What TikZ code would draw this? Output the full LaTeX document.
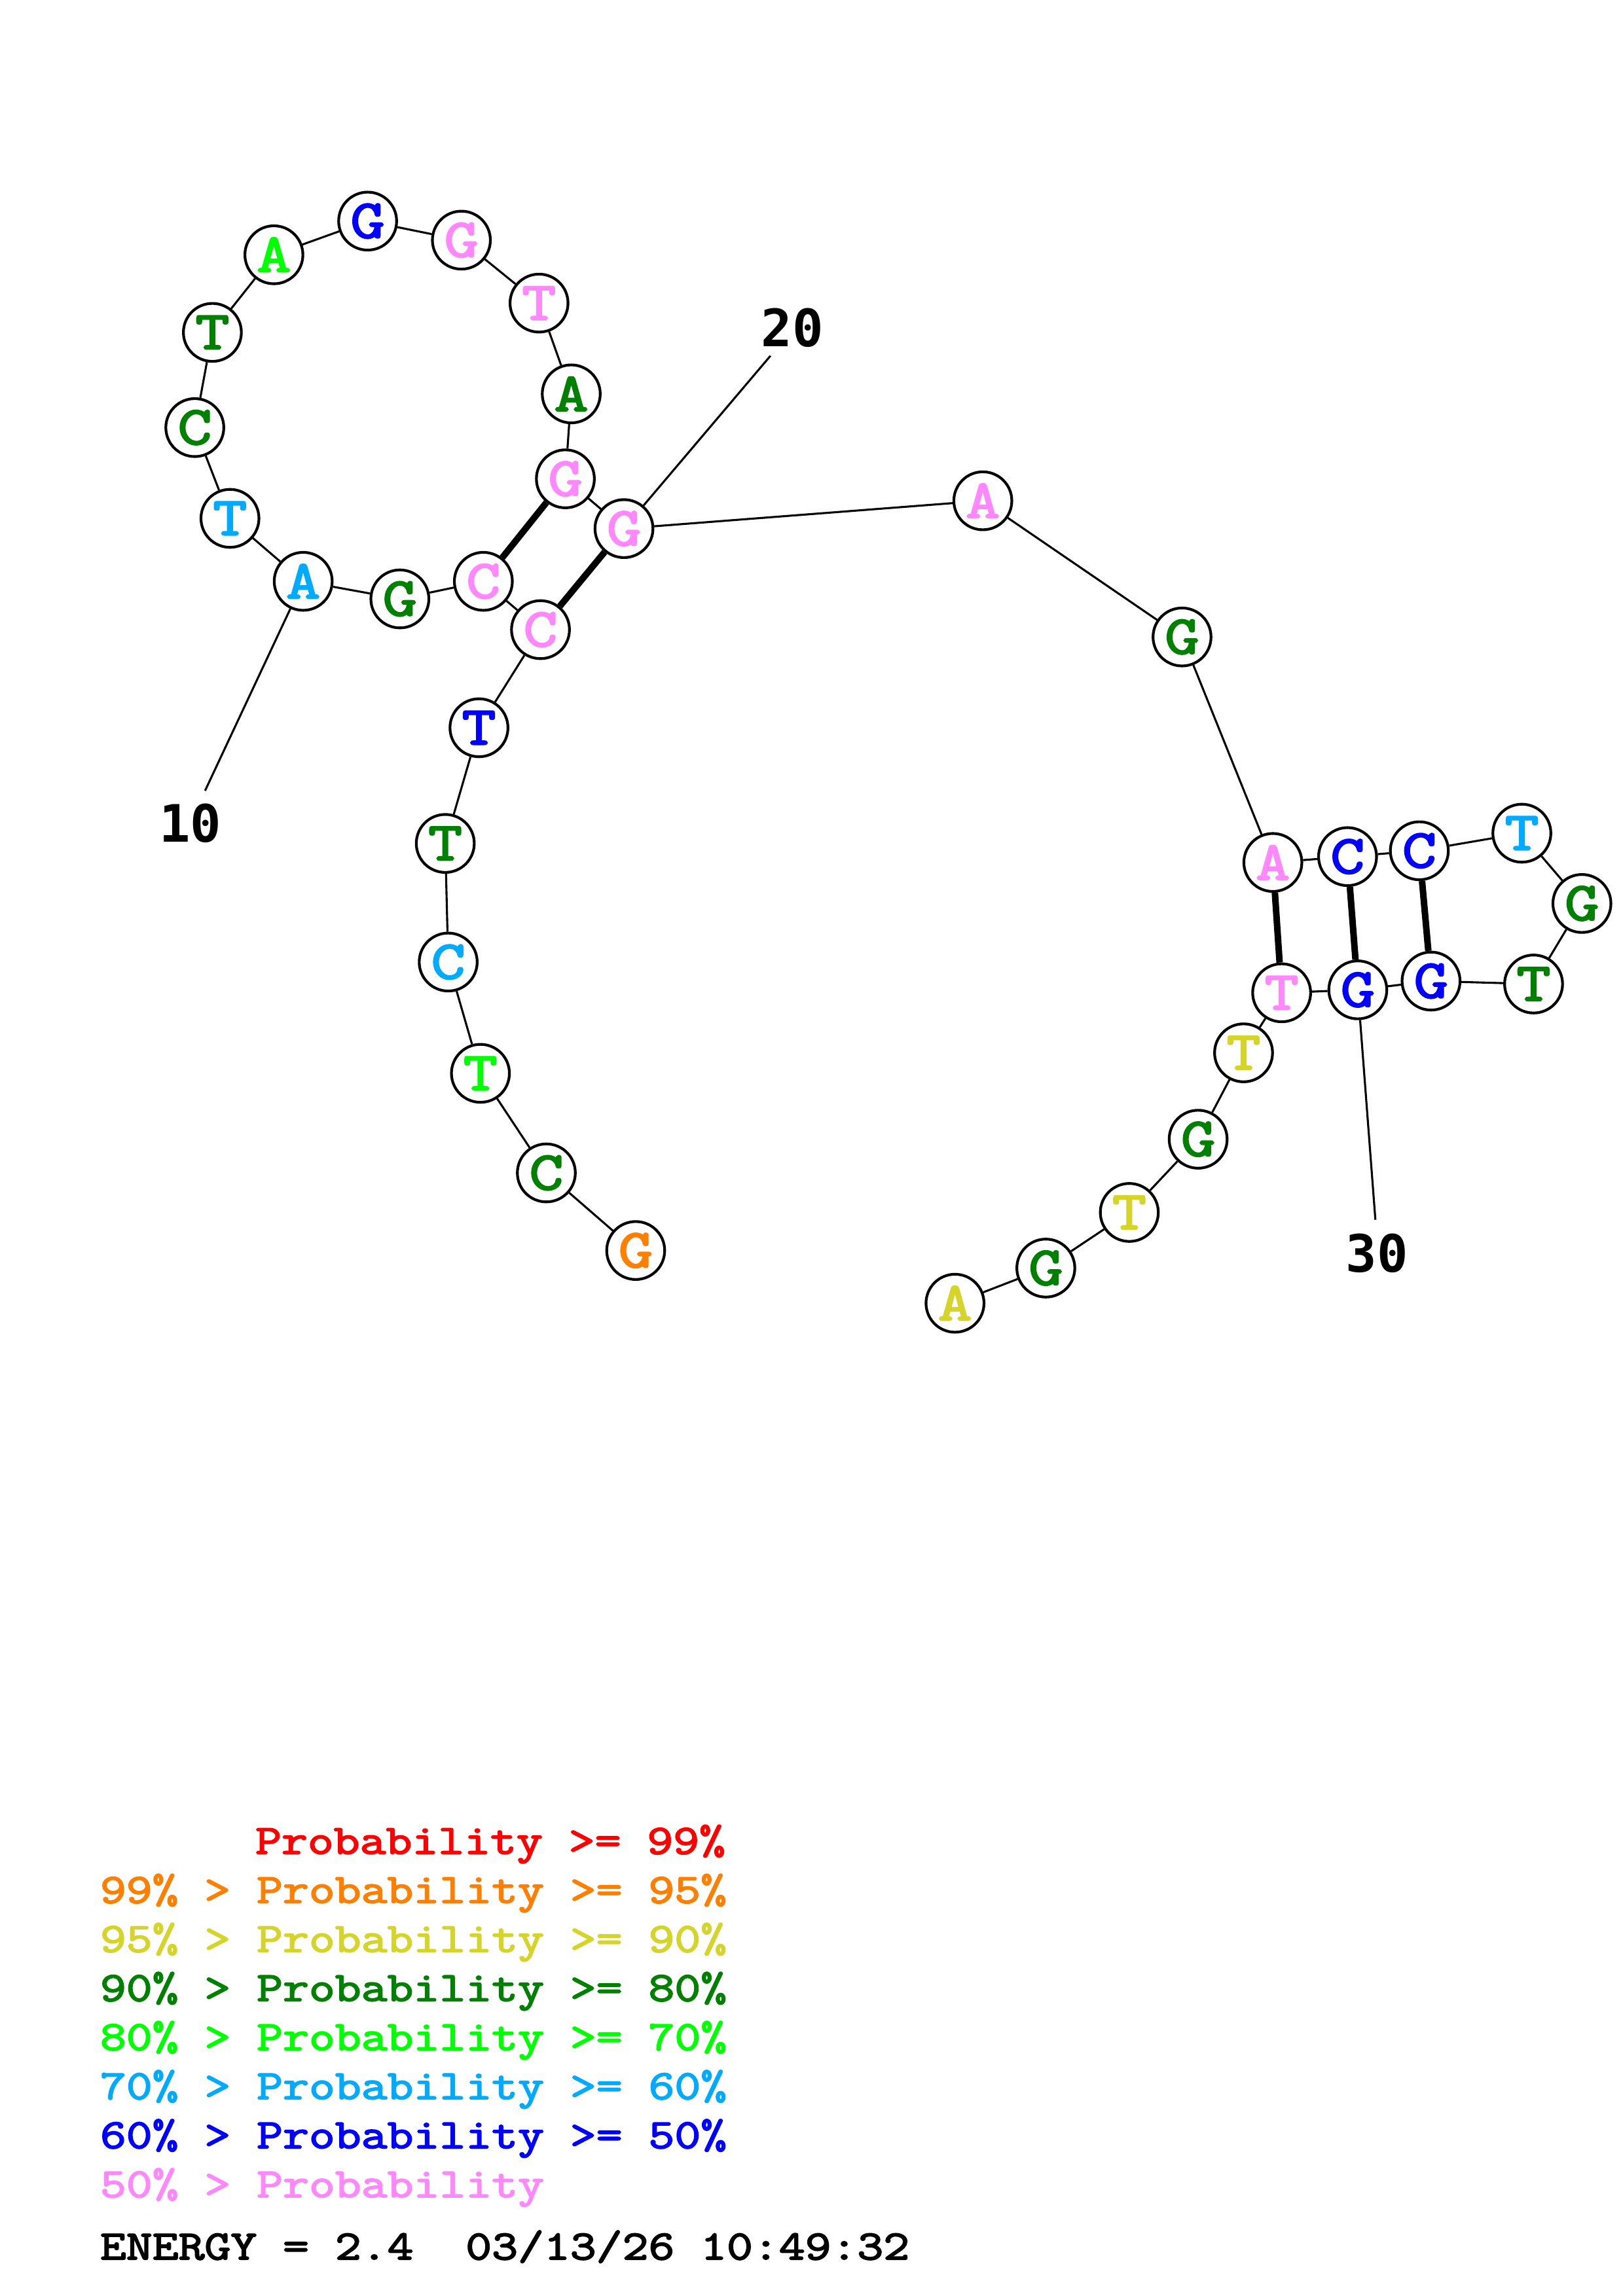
\documentclass[tikz,border=0pt]{standalone}
\usepackage{fontspec}
\usepackage{tikz}
\newfontfamily\courfont{Latin Modern Mono}[FakeBold=3, FakeStretch=1.22]
\newfontfamily\numfont{DejaVu Sans Mono}
\definecolor{pr99}{RGB}{255,0,0}
\definecolor{pr95}{RGB}{255,128,0}
\definecolor{pr90}{RGB}{212,212,42}
\definecolor{pr80}{RGB}{0,128,0}
\definecolor{pr70}{RGB}{0,255,0}
\definecolor{pr60}{RGB}{0,170,255}
\definecolor{pr50}{RGB}{0,0,255}
\definecolor{prlow}{RGB}{255,136,255}

\begin{document}
\begin{tikzpicture}[
    x = 0.018953cm, y = -0.018953cm,
    base/.style ={circle, draw, line width = 1pt, fill = white, minimum size = 0.75cm, inner sep = 0pt,
                  font = \courfont\fontsize{20}{20}\selectfont},
    bond/.style ={line width = 0.75pt},
    pair/.style ={line width = 2.4pt},
    numlbl/.style ={inner sep = 0pt, font = \numfont\bfseries\fontsize{19}{19}\selectfont},
    legend/.style ={anchor = base west, inner sep = 0pt, font = \courfont\fontsize{15.3}{15.3}\selectfont}
    ]
\useasboundingbox (0,0) rectangle (1108,1568);

% bases: number / x / y / letter / colour
\foreach \i/\x/\y/\b/\c in {
    1/434/854/G/pr95, 2/373/801/C/pr80, 3/328/733/T/pr70, 4/306/657/C/pr60,
    5/304/576/T/pr80, 6/327/497/T/pr50, 7/369/430/C/prlow, 8/330/397/C/prlow,
    9/273/409/G/pr80, 10/207/397/A/pr60, 11/157/354/T/pr60, 12/133/292/C/pr80,
    13/145/227/T/pr80, 14/187/174/A/pr70, 15/251/151/G/pr50, 16/315/164/G/prlow,
    17/368/207/T/prlow, 18/390/269/A/pr80, 19/386/327/G/prlow, 20/426/361/G/prlow,
    21/671/342/A/prlow, 22/807/435/G/pr80, 23/869/589/A/prlow, 24/920/585/C/pr50,
    25/969/581/C/pr50, 26/1039/569/T/pr60, 27/1080/617/G/pr80, 28/1047/672/T/pr80,
    29/977/670/G/pr50, 30/927/676/G/pr50, 31/875/678/T/prlow, 32/849/719/T/pr90,
    33/818/778/G/pr80, 34/771/828/T/pr90, 35/714/866/G/pr80, 36/652/890/A/pr90}{
    \node [base, text = \c] (n\i) at (\x, \y) {\b};
    }

% backbone
\foreach \i [count = \j from 2] in {1,...,35}{
    \draw [bond] (n\i) -- (n\j);
    }
% base pairs
\foreach \a/\b in {8/19, 7/20, 23/31, 24/30, 25/29}{
    \draw [pair] (n\a) -- (n\b);
    }

% position marks
\coordinate (t10) at (140, 540);
\coordinate (t20) at (526, 243);
\coordinate (t30) at (939, 833);
\draw [bond] (n10) -- (t10);
\draw [bond] (n20) -- (t20);
\draw [bond] (n30) -- (t30);
\node [numlbl] (l10) at (130, 562) {10};
\node [numlbl] (l20) at (541, 224) {20};
\node [numlbl] (l30) at (940, 856) {30};

% legend
\node [legend, text = pr99] (k99) at (174, 1266) {Probability >= 99\%};
\foreach \y/\t/\c in {
    1299.5/99\% > Probability >= 95\%/pr95,
    1333/95\% > Probability >= 90\%/pr90,
    1366.5/90\% > Probability >= 80\%/pr80,
    1400/80\% > Probability >= 70\%/pr70,
    1433.5/70\% > Probability >= 60\%/pr60,
    1467/60\% > Probability >= 50\%/pr50,
    1500.5/50\% > Probability/prlow}{
    \node [legend, text = \c] at (68, \y) {\t};
    }
\node [legend] (energy) at (68, 1543) {ENERGY = 2.4\ \ 03/13/26 10:49:32};
\end{tikzpicture}
\end{document}
